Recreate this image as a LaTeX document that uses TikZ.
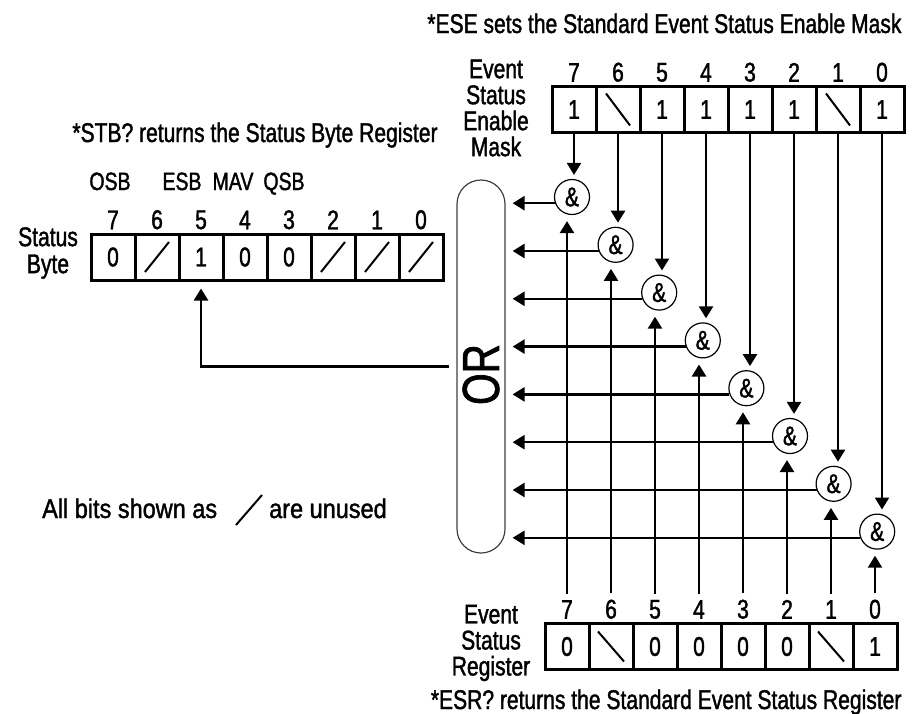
\documentclass[tikz,border=0pt]{standalone}
\usepackage{fontspec}
\setmainfont{Liberation Sans}[FakeStretch=0.78,FakeBold=1.4]
\newfontfamily\legendfont{Liberation Sans}[FakeStretch=0.87,FakeBold=1.4]
\usepackage{graphicx}
\usetikzlibrary{positioning,arrows.meta,calc}

\tikzset{
  cell/.style={draw,line width=3pt,minimum width=44pt,minimum height=46pt,inner sep=0pt},
  bitnum/.style={inner sep=0pt},
  bitname/.style={anchor=base,font=\fontsize{25pt}{26pt}\selectfont},
  andgate/.style={draw,circle,line width=1.2pt,minimum size=35pt,inner sep=0pt},
  orbox/.style={draw=black!75,line width=1.2pt,rounded corners=24pt,minimum width=48pt,minimum height=373pt,inner sep=0pt,font=\fontsize{52pt}{52pt}\selectfont},
  wire/.style={line width=2.5pt,-{Triangle[length=12pt,width=14pt]}},
  unused/.style={line width=2pt},
  lbl/.style={align=center,inner sep=0pt}
}

\begin{document}
\begin{tikzpicture}[x=1pt,y=-1pt,every node/.style={font=\fontsize{27pt}{26pt}\selectfont}]
	\useasboundingbox (0,0) rectangle (922,713);
	% status byte register
	\foreach \b/\v [count=\k from 0] in {7/0,6/{},5/1,4/0,3/0,2/{},1/{},0/{}}{
		\node[cell] (s\b) at (113+44*\k,257) {\v};
		\node[bitnum,above=3pt of s\b] (sn\b) {\b};
	}
	\foreach \b in {6,2,1,0}
		\draw[unused] ([shift={(-12,15)}]s\b.center) -- ([shift={(12,-15)}]s\b.center);
	\node[lbl] (sblabel) at (48,253) {Status\\[1pt]Byte};
	\node[bitname] at (110,190) {OSB};
	\node[bitname] at (182,190) {ESB};
	\node[bitname] at (233,190) {MAV};
	\node[bitname] at (284,190) {QSB};
	\node[anchor=base] at (255,142) {*STB? returns the Status Byte Register};
	% enable mask
	\foreach \b/\v [count=\k from 0] in {7/1,6/{},5/1,4/1,3/1,2/1,1/{},0/1}{
		\node[cell] (m\b) at (574+44*\k,109.5) {\v};
		\node[bitnum,above=3pt of m\b] (mn\b) {\b};
	}
	\foreach \b in {6,1}
		\draw[unused] ([shift={(-12,-16)}]m\b.center) -- ([shift={(12,16)}]m\b.center);
	\node[lbl] (mlabel) at (496,108) {Event\\Status\\Enable\\Mask};
	\node[anchor=base east] at (905,33) {*ESE sets the Standard Event Status Enable Mask};
	% event status register
	\foreach \b/\v [count=\k from 0] in {7/0,6/{},5/0,4/0,3/0,2/0,1/{},0/1}{
		\node[cell] (e\b) at (567+44*\k,646.5) {\v};
		\node[bitnum,above=3pt of e\b] (en\b) {\b};
	}
	\foreach \b in {6,1}
		\draw[unused] ([shift={(-13,-15)}]e\b.center) -- ([shift={(13,15)}]e\b.center);
	\node[lbl] (elabel) at (491,643) {Event\\Status\\Register};
	\node[anchor=base east] at (905,709) {*ESR? returns the Standard Event Status Register};
	% OR and gates
	\node[orbox] (or) at (481,366.5) {\rotatebox{90}{OR\hspace{16pt}}};
	\foreach \b [count=\k from 0] in {7,...,0}
		\node[andgate] (g\b) at (572+43.6*\k,197+47.8*\k) {\&};
	\foreach \b in {7,...,0}{
		\draw[wire,shorten >=4pt] (m\b.south) -- (m\b.south |- g\b.north);
		\draw[wire,shorten <=6pt,shorten >=6pt] (en\b.north) -- (en\b.north |- g\b.south);
		\draw[wire,shorten >=7pt] (g\b.200) -- (g\b.200 -| or.east);
	}
	\draw[wire,shorten <=7pt,shorten >=7pt] (or.west) -| (s5.south);
	% legend
	\node[anchor=base west,inner sep=0pt,font=\legendfont\fontsize{27pt}{26pt}\selectfont] (legend) at (42,518) {All bits shown as};
	\draw[unused] (236,525) -- (262,495);
	\node[anchor=base west,inner sep=0pt,font=\legendfont\fontsize{27pt}{26pt}\selectfont] at (269,518) {are unused};
\end{tikzpicture}
\end{document}
